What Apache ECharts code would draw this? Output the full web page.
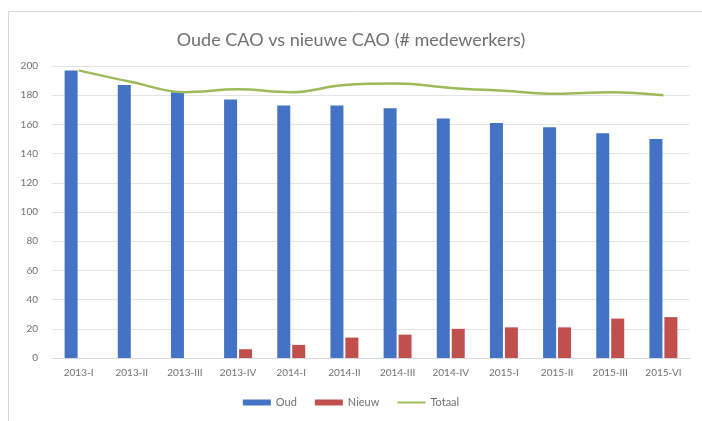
<!DOCTYPE html>
<html><head><meta charset="utf-8">
<script src="https://cdn.jsdelivr.net/npm/echarts@6/dist/echarts.min.js"></script>
<style>html,body{margin:0;padding:0;background:#fff}#c{width:702px;height:421px}</style>
</head><body><div id="c"></div>
<script>
const categories = ['2013-I','2013-II','2013-III','2013-IV','2014-I','2014-II','2014-III','2014-IV','2015-I','2015-II','2015-III','2015-VI'];
const oud = [197, 187, 182, 177, 173, 173, 171, 164, 161, 158, 154, 150];
const nieuw = [0, 0, 0, 6, 9, 14, 16, 20, 21, 21, 27, 28];
const totaal = [197, 189, 182, 184, 182, 187, 188, 185, 183, 181, 182, 180];
const yTicks = {min: 0, max: 200, interval: 20};

const chart = echarts.init(document.getElementById('c'), null, {renderer: 'canvas'});
const font = 'Lato, "Open Sans", sans-serif';
chart.setOption({
  animation: false,
  backgroundColor: '#fff',
  title: {
    text: 'Oude CAO vs nieuwe CAO (# medewerkers)',
    left: 'center', top: 26,
    textStyle: {fontFamily: font, fontSize: 18, fontWeight: 'normal', color: '#707070'}
  },
  graphic: [{type: 'rect', shape: {x: 8.5, y: 11.5, width: 700, height: 420}, style: {fill: 'none', stroke: '#d9d9d9', lineWidth: 1}, silent: true}],
  legend: {
    bottom: 8, left: 'center', itemWidth: 28, itemHeight: 6, itemGap: 18,
    textStyle: {fontFamily: font, fontSize: 11, color: '#707070'},
    data: [
      {name: 'Oud', icon: 'rect'},
      {name: 'Nieuw', icon: 'rect'},
      {name: 'Totaal', icon: 'path://M0,0 L0,0.01 Z M0,2 L30,2 L30,4 L0,4 Z M30,6 L30,5.99 Z'}
    ]
  },
  grid: {left: 52, right: 12, top: 66, bottom: 63},
  xAxis: {
    type: 'category', data: categories,
    axisLine: {lineStyle: {color: '#d9d9d9'}},
    axisTick: {show: false},
    axisLabel: {fontFamily: font, fontSize: 10, color: '#707070', margin: 10, interval: 0}
  },
  yAxis: {
    type: 'value', min: yTicks.min, max: yTicks.max, interval: yTicks.interval,
    axisLine: {show: false}, axisTick: {show: false},
    splitLine: {lineStyle: {color: '#e4e4e4'}},
    axisLabel: {fontFamily: font, fontSize: 10, color: '#707070', margin: 14}
  },
  series: [
    {name: 'Oud', type: 'bar', data: oud, barWidth: 13, barGap: '15%', itemStyle: {color: '#4472c4'}},
    {name: 'Nieuw', type: 'bar', data: nieuw, barWidth: 13, itemStyle: {color: '#c0504d'}},
    {name: 'Totaal', type: 'line', data: totaal, smooth: 0.4, symbol: 'none', lineStyle: {color: '#9bbb59', width: 2.5}, itemStyle: {color: '#9bbb59'}}
  ]
});
</script></body></html>
